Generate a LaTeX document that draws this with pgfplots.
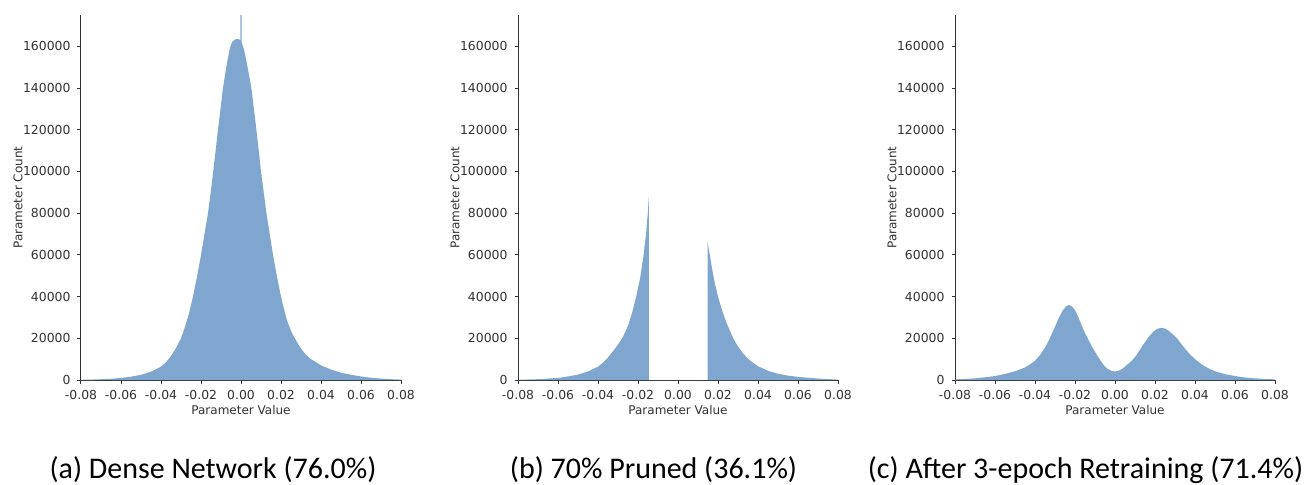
\documentclass[border=0pt]{standalone}
\usepackage{fontspec}
\setmainfont{DejaVu Sans}
\newfontfamily\capfont{Carlito}
\usepackage{pgfplots}
\pgfplotsset{compat=1.18}
\definecolor{histblue}{RGB}{127,166,207}
\definecolor{spine}{RGB}{50,50,50}

\pgfplotsset{
  hist/.style={
    scale only axis, width=160pt, height=182.5pt,
    xmin=-0.08, xmax=0.08, ymin=0, ymax=175000,
    axis x line*=bottom, axis y line*=left,
    axis line style={spine, line width=0.5pt},
    tick align=outside, major tick length=1.75pt,
    tick style={spine, line width=0.5pt},
    scaled x ticks=false, scaled y ticks=false,
    xtick={-0.08,-0.06,-0.04,-0.02,0,0.02,0.04,0.06,0.08},
    xticklabels={-0.08,-0.06,-0.04,-0.02,0.00,0.02,0.04,0.06,0.08},
    ytick={0,20000,40000,60000,80000,100000,120000,140000,160000},
    yticklabels={0,20000,40000,60000,80000,100000,120000,140000,160000},
    ticklabel style={font=\fontsize{6.2}{7}\selectfont, text=spine},
    label style={font=\fontsize{6}{7}\selectfont, text=spine},
    xlabel={Parameter Value}, ylabel={Parameter Count},
    xlabel style={at={(axis description cs:0.5,-0.082)}, anchor=center},
    ylabel style={at={(axis description cs:-0.197,0.5)}, anchor=center},
    clip=true,
  },
}

\begin{document}
\begin{tikzpicture}
% (a) dense
\begin{axis}[hist, at={(0pt,0pt)}]
\addplot[fill=histblue, draw=none] coordinates {
(-0.080,100) (-0.075,200) (-0.070,400) (-0.065,600) (-0.060,1000) (-0.055,1600)
(-0.050,2500) (-0.045,4000) (-0.040,6400) (-0.0375,8500) (-0.035,11500)
(-0.0325,15300) (-0.030,20000) (-0.028,25500) (-0.026,32000) (-0.024,40000)
(-0.022,49500) (-0.020,60000) (-0.018,71500) (-0.0165,80000) (-0.015,91000)
(-0.014,99000) (-0.0115,120000) (-0.009,140000) (-0.0072,151000) (-0.0057,158500)
(-0.0045,162000) (-0.003,163300) (-0.0015,163500) (-0.0003,163000)
(-0.0003,178000) (0.0003,178000) (0.0003,162000)
(0.0015,158500) (0.003,151500) (0.0052,140000) (0.0077,120000) (0.010,100000)
(0.0127,80000) (0.016,60000) (0.018,49500) (0.020,40000) (0.0215,34000)
(0.023,28500) (0.025,23500) (0.0269,20000) (0.029,16500) (0.032,12500)
(0.035,10000) (0.040,7000) (0.045,5000) (0.050,3500) (0.055,2500) (0.060,1700)
(0.065,1100) (0.070,700) (0.075,400) (0.080,200)
} \closedcycle;
\end{axis}
% (b) pruned
\begin{axis}[hist, at={(218.5pt,0pt)}]
\addplot[fill=histblue, draw=none] coordinates {
(-0.080,100) (-0.070,400) (-0.060,1000) (-0.055,1700) (-0.050,2600) (-0.045,4100)
(-0.040,6400) (-0.0375,8300) (-0.035,10800) (-0.0325,13800) (-0.030,17000)
(-0.0276,20500) (-0.025,26000) (-0.023,32000) (-0.0209,40000) (-0.019,48500)
(-0.0172,60000) (-0.016,70000) (-0.0151,80000) (-0.0146,88000)
(-0.0146,0) (0.0148,0)
(0.0148,66000) (0.0159,60000) (0.017,53500) (0.0185,46000) (0.020,40000)
(0.022,33500) (0.024,28000) (0.0276,20000) (0.030,16000) (0.0325,12800)
(0.035,10200) (0.0375,8200) (0.040,6600) (0.045,4400) (0.050,3000) (0.055,2100)
(0.060,1500) (0.070,700) (0.080,200)
} \closedcycle;
\end{axis}
% (c) retrained
\begin{axis}[hist, at={(437pt,0pt)}]
\addplot[fill=histblue, draw=none] coordinates {
(-0.080,300) (-0.075,500) (-0.070,800) (-0.065,1300) (-0.060,1900) (-0.055,2900)
(-0.050,4200) (-0.045,6000) (-0.0425,7500) (-0.040,9200) (-0.0375,12000)
(-0.035,15500) (-0.0326,20000) (-0.030,25500) (-0.028,30000) (-0.026,33500)
(-0.0245,35300) (-0.023,36000) (-0.0215,35300) (-0.020,33500) (-0.0185,30500)
(-0.017,27000) (-0.015,22500) (-0.0134,19500) (-0.0115,16000) (-0.010,13500)
(-0.0085,11200) (-0.007,9000) (-0.0055,7000) (-0.004,5500) (-0.002,4500)
(0.000,4100) (0.002,4500) (0.004,5600) (0.006,7300) (0.008,8900) (0.010,11000)
(0.012,13800) (0.014,16800) (0.0167,20500) (0.019,23000) (0.021,24500)
(0.023,25000) (0.025,24700) (0.027,23500) (0.029,21800) (0.031,20000)
(0.033,17500) (0.035,15000) (0.0375,12300) (0.040,10000) (0.0425,8100)
(0.045,6500) (0.0475,5200) (0.050,4200) (0.055,2800) (0.060,1900) (0.065,1200)
(0.070,800) (0.075,500) (0.080,300)
} \closedcycle;
\end{axis}
\node[anchor=base, font=\capfont\fontsize{15}{17}\selectfont] at (66pt,-49pt) {(a) Dense Network (76.0\%)};
\node[anchor=base, font=\capfont\fontsize{15}{17}\selectfont] at (286.25pt,-49pt) {(b) 70\% Pruned (36.1\%)};
\node[anchor=base, font=\capfont\fontsize{15}{17}\selectfont] at (502.25pt,-49pt) {(c) After 3-epoch Retraining (71.4\%)};
\pgfresetboundingbox
\path[use as bounding box] (-40.5pt,-52pt) rectangle (613pt,190pt);
\end{tikzpicture}
\end{document}
